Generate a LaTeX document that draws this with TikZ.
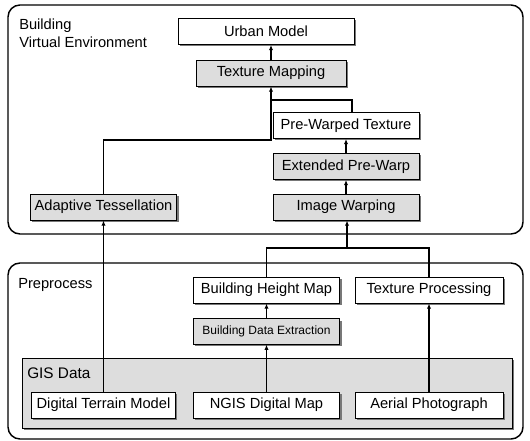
\documentclass[tikz,border=0pt]{standalone}
\usepackage{fontspec}
\setmainfont{Liberation Sans}
\usetikzlibrary{arrows.meta,shadows}

\definecolor{boxgray}{RGB}{221,221,221}
\definecolor{shadegray}{RGB}{120,120,120}

\tikzset{
  box/.style={draw, line width=0.6pt, fill=white, minimum height=19.5pt,
    inner sep=0pt, font=\fontsize{11}{13}\selectfont,
    drop shadow={shadow xshift=1.4pt, shadow yshift=-1.4pt, fill=shadegray, opacity=1}},
  graybox/.style={box, fill=boxgray},
  areaframe/.style={draw, line width=1.1pt, rounded corners=9pt},
  tag/.style={anchor=north west, inner sep=0pt, align=left,
    font=\fontsize{11}{13}\selectfont},
  arr/.style={line width=0.9pt, -{Latex[length=4pt,width=3.2pt]}},
  link/.style={line width=0.9pt}
}

\begin{document}
\begin{tikzpicture}[x=0.75pt,y=-0.75pt]
  \useasboundingbox (0,0) rectangle (530,441);
  % frames
  \draw[areaframe] (8,5) rectangle (523,234);
  \draw[areaframe] (8,263) rectangle (523,439);
  \node[tag] (bve) at (19,19) {Building\\Virtual Environment};
  \node[tag] (pre) at (18,278) {Preprocess};
  % GIS data block
  \draw[line width=0.6pt, fill=boxgray,
    drop shadow={shadow xshift=1.4pt, shadow yshift=-1.4pt, fill=shadegray, opacity=1}]
    (22,358) rectangle (512,428);
  \node[tag, font=\fontsize{11.5}{13}\selectfont] (gis) at (27,368) {GIS Data};
  % building virtual environment
  \node[box, minimum width=132pt] (urban) at (266,31.5) {Urban Model};
  \node[graybox, minimum width=112.5pt] (texmap) at (271,73) {Texture Mapping};
  \node[box, minimum width=109.5pt] (prewarped) at (346,125.5) {Pre-Warped Texture};
  \node[graybox, minimum width=109.5pt] (extwarp) at (346,166.5) {Extended Pre-Warp};
  \node[graybox, minimum width=109.5pt] (imgwarp) at (346,207) {Image Warping};
  \node[graybox, minimum width=110pt] (adaptess) at (103.5,207) {Adaptive Tessellation};
  % preprocess
  \node[box, minimum width=110pt] (bhm) at (266.5,290) {Building Height Map};
  \node[box, minimum width=111pt] (texproc) at (429,290) {Texture Processing};
  \node[graybox, minimum width=110pt, minimum height=19pt,
    font=\fontsize{9}{11}\selectfont] (bde) at (266.5,331.5) {Building Data Extraction};
  \node[box, minimum width=108pt] (dtm) at (103.5,405) {Digital Terrain Model};
  \node[box, minimum width=110pt] (ngis) at (266.5,405) {NGIS Digital Map};
  \node[box, minimum width=111pt] (aerial) at (429,405) {Aerial Photograph};
  % joints
  \coordinate (jtess) at (271,140);
  \coordinate (jtex) at (271,100);
  \coordinate (jpre) at (347,248);
  % connectors
  \draw[arr] (texmap.north) -- (texmap.north |- urban.south);
  \draw[arr] (adaptess.north) -- (adaptess.north |- jtess) -- (jtess) -- (texmap.south);
  \draw[link] ([xshift=4.5pt]prewarped.north) |- (jtex);
  \draw[arr] (extwarp) -- (prewarped);
  \draw[arr] (imgwarp) -- (extwarp);
  \draw[arr] (dtm.north) -- (adaptess.south);
  \draw[link] (bhm.north) |- (jpre) -| (texproc.north);
  \draw[arr] (jpre) -- (jpre |- imgwarp.south);
  \draw[arr] (bde) -- (bhm);
  \draw[arr] (ngis) -- (bde);
  \draw[arr] (aerial) -- (texproc);
\end{tikzpicture}
\end{document}
